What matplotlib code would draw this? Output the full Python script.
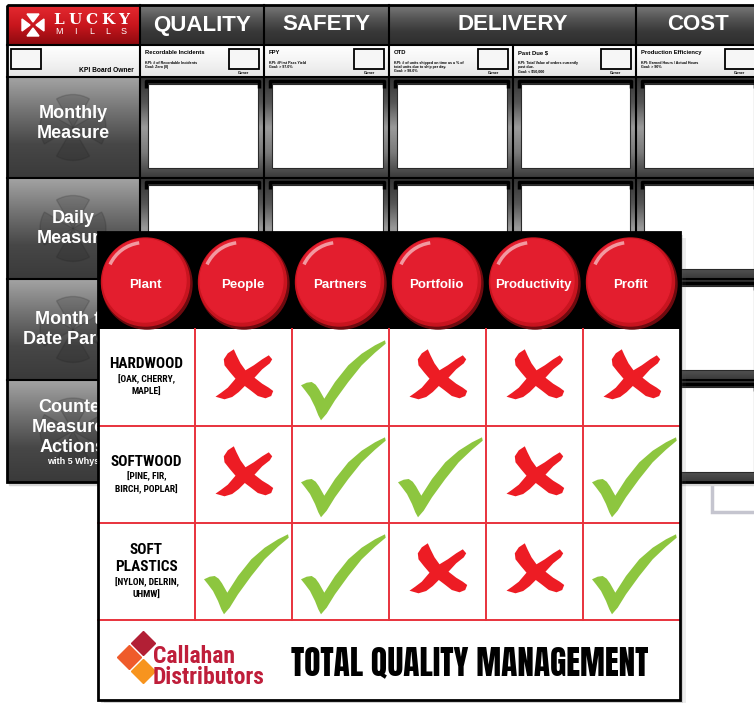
import numpy as np
import matplotlib
matplotlib.use("Agg")
import matplotlib.pyplot as plt
from matplotlib.colors import to_rgb
from matplotlib.patches import Rectangle, Circle, Polygon, Arc, Wedge
from matplotlib.path import Path

# ---- back board (KPI board) ----
kpi_groups = ["QUALITY", "SAFETY", "DELIVERY", "COST"]
group_span = [(1, 2), (2, 3), (3, 5), (5, 6)]
kpi_titles = ["Recordable Incidents", "FPY", "OTD", "Past Due $", "Production Efficiency"]
kpi_notes = [
    "KPI: # of Recordable Incidents\nGoal: Zero (0)",
    "KPI: #First Pass Yield\nGoal: > 97.0%",
    "KPI: # of units shipped on time as a % of\ntotal units due to ship per day.\nGoal: > 98.0%",
    "KPI: Total Value of orders currently\npast due.\nGoal: < $50,000",
    "KPI: Earned Hours / Actual Hours\nGoal: > 90%",
]
measure_rows = [["Monthly", "Measure"], ["Daily", "Measure"],
                ["Month to", "Date Pareto"], ["Counter", "Measures", "Actions"]]

# ---- front board (TQM matrix) ----
pillars = ["Plant", "People", "Partners", "Portfolio", "Productivity", "Profit"]
materials = [["HARDWOOD"], ["SOFTWOOD"], ["SOFT", "PLASTICS"]]
examples = [["[OAK, CHERRY,", "MAPLE]"], ["[PINE, FIR,", "BIRCH, POPLAR]"],
            ["[NYLON, DELRIN,", "UHMW]"]]
# 1 = check, 0 = cross ; columns under People .. Profit
status = np.array([[0, 1, 0, 0, 0],
                   [0, 1, 1, 0, 1],
                   [1, 1, 0, 0, 1]])

SANS = ["Liberation Sans", "DejaVu Sans"]
COND = ["Roboto Condensed", "Liberation Sans Narrow", "Liberation Sans", "DejaVu Sans"]
IMPACT = ["Anton", "Oswald", "Roboto Condensed", "Liberation Sans", "DejaVu Sans"]

fig = plt.figure(figsize=(7.54, 7.03), dpi=100)
ax = fig.add_axes([0, 0, 1, 1])


def grad(x0, y0, x1, y1, stops, z):
    c = np.array([to_rgb(s) for s in stops])
    t = np.linspace(0, 1, 80)
    p = np.linspace(0, 1, len(stops))
    img = np.stack([np.interp(t, p, c[:, k]) for k in range(3)], axis=-1)[:, None, :]
    ax.imshow(img, extent=(x0, x1, y1, y0), aspect="auto",
              interpolation="bilinear", zorder=z)


# ================= back board =================
col_x = [7, 140, 264, 389, 513, 636, 760]
row_y = [5, 45, 77, 178, 279, 380, 482]

ax.add_patch(Rectangle((9, 8), 760, row_y[-1] - row_y[0], color="#d5d5d5", zorder=0.5))
ax.add_patch(Rectangle((712, 472), 55, 40, fill=False, ec="#c5c5cf", lw=2.5, zorder=0.4))

# logo cell
grad(col_x[0], row_y[0], col_x[1], row_y[1], ["#e52a31", "#c9161d", "#8c0a0f"], 1)
ecx, ecy = 33, 25
for dx, dy in [(0, -1), (0, 1), (-1, 0), (1, 0)]:
    tip = (ecx + 3 * dx, ecy + 3 * dy)
    base = (ecx + 11 * dx, ecy + 11 * dy)
    half = (-dy * 6, dx * 6)
    ax.add_patch(Polygon([tip, (base[0] + half[0], base[1] + half[1]),
                          (base[0] - half[0], base[1] - half[1])],
                         color="white", zorder=3))
for ch, x in zip("LUCKY", np.linspace(59, 124, 5)):
    ax.text(x, 20, ch, color="white", fontsize=11, fontweight="bold",
            family="DejaVu Serif", ha="center", va="center", zorder=4)
for ch, x in zip("MILLS", np.linspace(59, 124, 5)):
    ax.text(x, 32, ch, color="white", fontsize=6.5, family=SANS,
            ha="center", va="center", zorder=4)

# group headers
for name, (a, b) in zip(kpi_groups, group_span):
    grad(col_x[a], row_y[0], col_x[b], row_y[1], ["#7a7a7a", "#555555", "#383838", "#2e2e2e"], 1)
    ax.text((col_x[a] + col_x[b]) / 2, 25, name, color="white", fontsize=16,
            fontweight="bold", family=SANS, ha="center", va="center", zorder=4)

# KPI description row
grad(col_x[0], row_y[1], col_x[-1], row_y[2], ["#ffffff", "#f4f4f4", "#e6e6e6"], 1)
ax.add_patch(Rectangle((11, 49), 30, 20, fc="#f6f6f6", ec="black", lw=1.3, zorder=3))
ax.text(134, 70, "KPI Board Owner", fontsize=4.8, fontweight="bold", family=SANS,
        ha="right", va="center", zorder=4)
for j in range(5):
    x0, x1 = col_x[j + 1], col_x[j + 2]
    ax.text(x0 + 5, 50, kpi_titles[j], fontsize=4.2, fontweight="bold", family=SANS,
            ha="left", va="top", zorder=4)
    ax.text(x0 + 5, 61, kpi_notes[j], fontsize=2.6, fontweight="bold", family=SANS,
            ha="left", va="top", linespacing=1.0, zorder=4)
    ax.add_patch(Rectangle((x1 - 35, 49), 30, 20, fc="#f6f6f6", ec="black", lw=1.3, zorder=3))
    ax.text(x1 - 20, 73, "Owner", fontsize=2.6, fontweight="bold", family=SANS,
            ha="center", va="center", zorder=4)

# measure rows
for i, lines in enumerate(measure_rows):
    y0, y1 = row_y[i + 2], row_y[i + 3]
    grad(col_x[0], y0, col_x[1], y1, ["#a3a3a3", "#737373", "#474747", "#3a3a3a"], 1)
    cy = (y0 + y1) / 2
    for a0 in [60, 150, 240, 330]:
        ax.add_patch(Wedge((73, cy), 33, a0, a0 + 60, color="#1e1e1e", alpha=0.18, zorder=2))
    n = len(lines)
    top = cy - 10 * (n - 1) - (4 if n == 3 else 0) - (4 if i == 0 else 0)
    for k, txt in enumerate(lines):
        ax.text(73, top + 20 * k, txt, color="white", fontsize=13, fontweight="bold",
                family=SANS, ha="center", va="center", zorder=4)
    if n == 3:
        ax.text(73, top + 54, "with 5 Whys", color="white", fontsize=6.5,
                fontweight="bold", family=SANS, ha="center", va="center", zorder=4)
    for j in range(5):
        x0, x1 = col_x[j + 1], col_x[j + 2]
        grad(x0, y0, x1, y1, ["#333333", "#555555", "#9a9a9a", "#7a7a7a", "#3a3a3a"], 1)
        ax.add_patch(Rectangle((x0 + 8, y0 + 7), x1 - x0 - 14, y1 - y0 - 17,
                               fc="white", ec="#2a2a2a", lw=0.8, zorder=2))
        ax.plot([x0 + 6, x0 + 6, x1 - 5, x1 - 5], [y0 + 11, y0 + 4, y0 + 4, y0 + 11],
                color="black", lw=2.5, solid_capstyle="butt", zorder=3)

# grid of back board
for x in [140, 264, 389, 636]:
    ax.plot([x, x], [row_y[0], row_y[-1]], color="black", lw=1.5, zorder=3)
ax.plot([513, 513], [row_y[1], row_y[-1]], color="black", lw=1.5, zorder=3)
for y in row_y[1:-1]:
    ax.plot([col_x[0], col_x[-1]], [y, y], color="black", lw=1.5, zorder=3)
ax.add_patch(Rectangle((col_x[0], row_y[0]), col_x[-1] - col_x[0], row_y[-1] - row_y[0],
                       fill=False, ec="black", lw=2, zorder=3))

# ================= front board =================
fx = [98 + 97 * k for k in range(7)]
fy_top, fy_head, fy_bot = 232, 329, 700
fy = [fy_head + 97 * i for i in range(4)]

for off, a in [(6, 0.10), (3, 0.18)]:
    ax.add_patch(Rectangle((fx[0] + off, fy_top + off), fx[-1] - fx[0], fy_bot - fy_top,
                           color="#555555", alpha=a, lw=0, zorder=9))
ax.add_patch(Rectangle((fx[0], fy_top), fx[-1] - fx[0], fy_bot - fy_top, fc="white", lw=0, zorder=10))
ax.add_patch(Rectangle((fx[0], fy_top), fx[-1] - fx[0], fy_head - fy_top, fc="black", lw=0, zorder=11))

# pillar buttons
for k, name in enumerate(pillars):
    cx, cy = (fx[k] + fx[k + 1]) / 2 - 1, 282
    ax.add_patch(Circle((cx + 1.5, cy + 2), 45, color="#6e0a0f", zorder=11.1))
    ax.add_patch(Circle((cx, cy), 44, color="#c8141f", zorder=11.2))
    ax.add_patch(Circle((cx - 1, cy - 1.5), 41.5, color="#e31e2e", zorder=11.3))
    ax.add_patch(Arc((cx - 1, cy - 1.5), 76, 76, theta1=205, theta2=262,
                     color="white", lw=2.5, alpha=0.55, zorder=11.4))
    ax.text(cx, cy + 3, name, color="white", fontsize=9.5, fontweight="bold",
            family=SANS, ha="center", va="center", zorder=11.5)

# red grid
for x in fx[1:-1]:
    ax.plot([x, x], [fy_head, fy[-1]], color="#e8323c", lw=1.4, zorder=12)
for y in fy[1:]:
    ax.plot([fx[0], fx[-1]], [y, y], color="#e8323c", lw=1.4, zorder=12)

# material labels
for i in range(3):
    names, ex = materials[i], examples[i]
    block = 17 * (len(names) - 1) + 15 + 13 * (len(ex) - 1)
    start = (fy[i] + fy[i + 1]) / 2 + 1 - block / 2
    for k, txt in enumerate(names):
        ax.text((fx[0] + fx[1]) / 2, start + 17 * k, txt, fontsize=11, fontweight="bold",
                family=COND, ha="center", va="center", zorder=13)
    e0 = start + 17 * (len(names) - 1) + 15
    for k, txt in enumerate(ex):
        ax.text((fx[0] + fx[1]) / 2, e0 + 13 * k, txt, fontsize=6.8, fontweight="bold",
                family=COND, ha="center", va="center", zorder=13)

# check / cross marks (outline in pixels around the cell centre, y up)
check_v = [(-40.5, -6.8), (-34.8, -4.2), (-29.8, -3.5), (-25.8, -6.2), (-22.5, -10.8),
           (-17.2, -20.2), (-6.5, -3.5), (6.8, 13.2), (20.2, 24.8), (33.5, 33.2),
           (43.5, 38.2), (44.2, 34.8), (33.5, 25.8), (20.2, 13.2), (6.8, -3.5),
           (-6.5, -21.8), (-14.8, -35.2), (-20.5, -41.8), (-23.2, -36.8), (-26.5, -28.5),
           (-31.5, -18.5), (-36.5, -11.8)]
cross_v = [(-10.7, 29.2), (-8, 23.2), (-4, 15.2), (1, 8.2), (9.3, 13.2), (17.7, 19.2),
           (24.3, 23.2), (27.7, 19.2), (25.3, 15.2), (17.7, 9.2), (10, 0.8), (17.7, -5.2),
           (24.3, -9.2), (28.7, -12.5), (26.7, -17.5), (21, -19.8), (13.3, -17.5),
           (6, -11.8), (0.3, -7.5), (-5.7, -13.5), (-12.3, -18.5), (-20, -20.8),
           (-29, -18.2), (-23.3, -14.2), (-16.7, -9.2), (-9, -0.2), (-14.7, 6.5),
           (-20, 13.2), (-20.7, 19.2), (-16.7, 25.2)]
check_path = Path(check_v + [check_v[0]], closed=True)
cross_path = Path(cross_v + [cross_v[0]], closed=True)
check_size = 2 * np.abs(check_v).max() * 0.72
cross_size = 2 * np.abs(cross_v).max() * 0.72

cols = np.array([(fx[j + 1] + fx[j + 2]) / 2 for j in range(5)])
rows = np.array([(fy[i] + fy[i + 1]) / 2 for i in range(3)])
XX, YY = np.meshgrid(cols, rows)
ok = status == 1
ax.scatter(XX[ok], YY[ok], marker=check_path, s=check_size ** 2, c="#8dc63f",
           linewidths=0, zorder=13)
ax.scatter(XX[~ok], YY[~ok], marker=cross_path, s=cross_size ** 2, c="#ed1c24",
           linewidths=0, zorder=13)

# footer: logo and title
for (dx, dy), colr in [((143.5, 643.5), "#b21f35"), ((129.5, 657.5), "#ef5b2b"),
                       ((143.5, 671.5), "#f7941e")]:
    h = 12
    ax.add_patch(Polygon([(dx, dy - h), (dx + h, dy), (dx, dy + h), (dx - h, dy)],
                         color=colr, zorder=13))
ax.text(153, 667, "Callahan\nDistributors", color="#bf1e3a", fontsize=17,
        fontweight="bold", family=COND, ha="left", va="center", linespacing=0.9,
        zorder=13)
ax.text(470, 663, "TOTAL QUALITY MANAGEMENT", fontsize=24,
        family=IMPACT, ha="center", va="center", zorder=13)

ax.add_patch(Rectangle((fx[0], fy_top), fx[-1] - fx[0], fy_bot - fy_top, fill=False,
                       ec="black", lw=2, zorder=14))

ax.set_xlim(0, 754)
ax.set_ylim(703, 0)
ax.axis("off")
fig.savefig("out.png", dpi=100)
